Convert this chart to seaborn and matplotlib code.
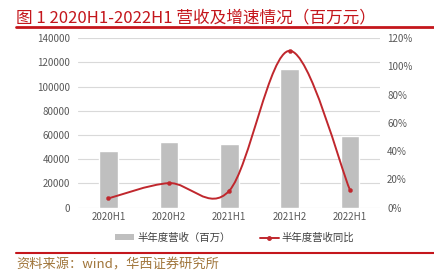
import numpy as np
import pandas as pd
import matplotlib
matplotlib.use("Agg")
import matplotlib.pyplot as plt
import seaborn as sns
from matplotlib.path import Path
from matplotlib.patches import PathPatch
from matplotlib.lines import Line2D
from matplotlib.patches import Patch
from matplotlib.ticker import FuncFormatter

# datos
periodos = ['2020H1', '2020H2', '2021H1', '2021H2', '2022H1']
ingresos = [46900, 53900, 52500, 114200, 59300]   # 百万元
crecimiento = [6.5, 17.3, 11.9, 111.0, 12.4]      # %

titulo = '图 1 2020H1-2022H1 营收及增速情况（百万元）'
fuente = '资料来源：wind，华西证券研究所'
leyenda_barra = '半年度营收（百万）'
leyenda_linea = '半年度营收同比'

ROJO = '#c4161c'
LINEA = '#c0272d'
GRIS = '#bfbfbf'
TEXTO = '#595959'

sns.set_theme(style="white")
plt.rcParams['font.family'] = ['Noto Sans CJK SC', 'DejaVu Sans']

fig = plt.figure(figsize=(4.35, 2.76), dpi=100)
ax = fig.add_axes([0.18, 0.248, 0.694, 0.614])

df = pd.DataFrame({'periodo': periodos, 'ingreso': ingresos, 'yoy': crecimiento})
sns.barplot(data=df, x='periodo', y='ingreso', color=GRIS, width=0.31,
            saturation=1, ax=ax, zorder=2)
ax.set_ylim(0, 140000)
ax.set_yticks(np.arange(0, 140001, 20000))
ax.set_xlim(-0.5, len(periodos) - 0.5)
ax.set_xlabel('')
ax.set_ylabel('')
ax.grid(axis='y', color='#d9d9d9', linewidth=0.8, zorder=0)
ax.set_axisbelow(True)
for s in ax.spines.values():
    s.set_visible(False)
ax.tick_params(axis='y', length=0, labelsize=7, colors=TEXTO, pad=6)
ax.tick_params(axis='x', length=0, labelsize=7, colors=TEXTO, pad=3)

# eje derecho: curva suavizada tipo Excel
ax2 = ax.twinx()
ax2.set_ylim(0, 120)
ax2.set_yticks(np.arange(0, 121, 20))
ax2.yaxis.set_major_formatter(FuncFormatter(lambda v, p: f'{v:.0f}%'))
for s in ax2.spines.values():
    s.set_visible(False)
ax2.tick_params(axis='y', length=0, labelsize=7, colors=TEXTO, pad=5)
ax2.grid(False)

xs = np.arange(len(periodos), dtype=float)
ys = np.array(crecimiento)
pts = np.column_stack([xs, ys])
verts = [pts[0]]
codes = [Path.MOVETO]
for i in range(len(pts) - 1):
    p0 = pts[i - 1] if i > 0 else pts[i]
    p1, p2 = pts[i], pts[i + 1]
    p3 = pts[i + 2] if i + 2 < len(pts) else pts[i + 1]
    verts += [p1 + (p2 - p0) / 6, p2 - (p3 - p1) / 6, p2]
    codes += [Path.CURVE4] * 3
ax2.add_patch(PathPatch(Path(verts, codes), facecolor='none', edgecolor=LINEA,
                        linewidth=1.4, zorder=3))
sns.scatterplot(x=xs, y=ys, color=LINEA, s=9, edgecolor=LINEA, ax=ax2, zorder=4)

# leyenda
handles = [Patch(facecolor=GRIS, edgecolor='none'),
           Line2D([0], [0], color=LINEA, lw=1.4, marker='o', markersize=2.5)]
fig.legend(handles, [leyenda_barra, leyenda_linea], loc='center',
           bbox_to_anchor=(0.54, 0.138), ncol=2, frameon=False, fontsize=7.5,
           labelcolor='#404040', handlelength=1.8, handleheight=0.5,
           columnspacing=2.8, handletextpad=0.3)

# titulo, lineas y fuente
fig.text(0.037, 0.965, titulo, color=ROJO, fontsize=12, va='top', ha='left')
fig.add_artist(Line2D([0.037, 1.0], [1 - 27 / 276] * 2, color=ROJO, lw=2))
fig.add_artist(Line2D([0.037, 1.0], [1 - 253 / 276] * 2, color=ROJO, lw=1.5))
fig.text(0.037, 1 - 265 / 276, fuente, color='#a0753a', fontsize=9.5,
         va='center', ha='left')

fig.savefig('out.png', dpi=100)
